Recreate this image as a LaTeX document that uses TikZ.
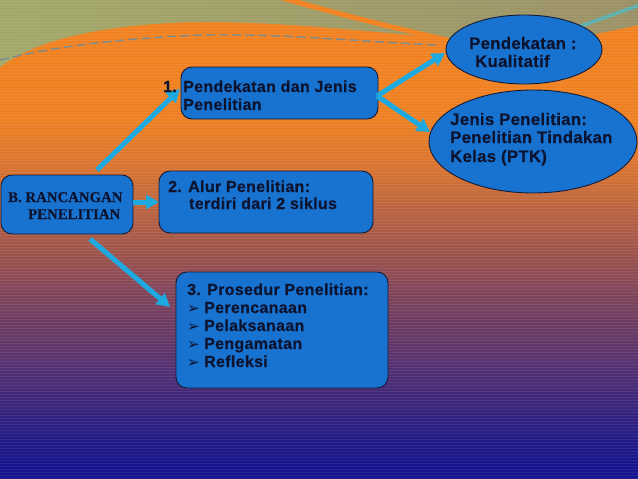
\documentclass[tikz,border=0pt]{standalone}
\usepackage{fontspec}
\usetikzlibrary{arrows.meta,shapes.geometric}
\setmainfont{Liberation Sans}
\newfontfamily\boxfont{Liberation Sans}[LetterSpace=2,FakeBold=0.6]
\newfontfamily\serifbold{Liberation Serif}[FakeBold=0.3]
\newfontfamily\dingfont{DejaVu Sans}
\definecolor{bgA}{RGB}{242,130,32}
\definecolor{bgB}{RGB}{238,128,34}
\definecolor{bgC}{RGB}{215,115,50}
\definecolor{bgD}{RGB}{185,100,65}
\definecolor{bgE}{RGB}{160,85,75}
\definecolor{bgF}{RGB}{130,70,90}
\definecolor{bgG}{RGB}{105,58,100}
\definecolor{bgH}{RGB}{82,48,115}
\definecolor{bgI}{RGB}{55,35,125}
\definecolor{bgJ}{RGB}{30,25,135}
\definecolor{bgK}{RGB}{18,18,145}
\definecolor{olvL}{RGB}{163,168,104}
\definecolor{olvR}{RGB}{155,145,102}
\definecolor{orng}{RGB}{242,130,32}
\definecolor{dashc}{RGB}{120,138,140}
\definecolor{tealc}{RGB}{95,175,175}
\definecolor{boxfill}{RGB}{24,114,208}
\definecolor{boxline}{RGB}{20,28,55}
\definecolor{txtcol}{RGB}{12,20,48}
\definecolor{arrcol}{RGB}{30,170,225}
\begin{document}
\begin{tikzpicture}[x=1pt,y=-1pt,
  rbox/.style={draw=boxline, line width=0.9pt, fill=boxfill, rounded corners=11pt, inner sep=0pt},
  ellbox/.style={draw=boxline, line width=0.9pt, fill=boxfill, ellipse, inner sep=0pt},
  txt/.style={anchor=base west, inner sep=0pt, text=txtcol, font=\boxfont\bfseries\fontsize{16}{19}\selectfont},
  etxt/.style={txt, font=\boxfont\bfseries\fontsize{16.7}{20}\selectfont},
  sertxt/.style={anchor=base west, inner sep=0pt, text=txtcol, font=\serifbold\bfseries\fontsize{14.8}{17}\selectfont},
  bul/.style={anchor=base west, inner sep=0pt, text=txtcol, font=\dingfont\fontsize{15}{17}\selectfont},
  arr/.style={draw=arrcol, line width=5pt, -{Triangle[width=14pt,length=13pt]}},
]
\useasboundingbox (0,0) rectangle (638,479);
% background gradient
\shade[top color=bgA, bottom color=bgB] (0,0) rectangle (638,120.5);
\shade[top color=bgB, bottom color=bgC] (0,120) rectangle (638,170.5);
\shade[top color=bgC, bottom color=bgD] (0,170) rectangle (638,210.5);
\shade[top color=bgD, bottom color=bgE] (0,210) rectangle (638,250.5);
\shade[top color=bgE, bottom color=bgF] (0,250) rectangle (638,290.5);
\shade[top color=bgF, bottom color=bgG] (0,290) rectangle (638,330.5);
\shade[top color=bgG, bottom color=bgH] (0,330) rectangle (638,370.5);
\shade[top color=bgH, bottom color=bgI] (0,370) rectangle (638,410.5);
\shade[top color=bgI, bottom color=bgJ] (0,410) rectangle (638,445.5);
\shade[top color=bgJ, bottom color=bgK] (0,445) rectangle (638,479);
% top olive area
\shade[left color=olvL, right color=olvR] (0,0) -- (0,67) .. controls (30,45) and (80,28) .. (170,23) .. controls (260,19) and (350,30) .. (445,38) .. controls (520,44) and (580,38) .. (600,33) .. controls (615,30) and (630,27) .. (638,25) -- (638,0) -- cycle;
\draw[orng, line width=5pt] (283,-2) .. controls (330,12) and (390,27) .. (447,40);
\draw[dashc, line width=1.4pt, dash pattern=on 9pt off 4pt] (0,60) .. controls (60,45) and (130,38) .. (200,35) .. controls (280,33) and (360,42) .. (440,45);
\draw[tealc, line width=3.5pt] (575,28) -- (640,5);
% stripes
\foreach \yy in {1,4,...,478} \draw[white, opacity=0.08, line width=0.8pt] (0,\yy) -- (638,\yy);
% boxes
\node[rbox, minimum width=132pt, minimum height=59pt] (B) at (67,204.5) {};
\node[rbox, minimum width=197pt, minimum height=52pt] (b1) at (279.5,93) {};
\node[rbox, minimum width=214pt, minimum height=62pt] (b2) at (266,202) {};
\node[rbox, minimum width=212pt, minimum height=116pt] (b3) at (282,330) {};
\node[ellbox, minimum width=156pt, minimum height=69pt] (e1) at (524,49.5) {};
\node[ellbox, minimum width=208pt, minimum height=103pt] (e2) at (533,141.5) {};
% arrow end points
\coordinate (s1) at (97,170);
\coordinate (d1) at (180,89);
\coordinate (s2) at (133,202);
\coordinate (d2) at (159,202);
\coordinate (s3) at (90,239);
\coordinate (d3) at (170,307);
\coordinate (s4) at (377,96);
\coordinate (d4) at (445,53);
\coordinate (d5) at (430,132);
\draw[arr] (s1) -- (d1);
\draw[arr] (s2) -- (d2);
\draw[arr] (s3) -- (d3);
\draw[arr] (s4) -- (d4);
\draw[arr] (s4) -- (d5);
% texts
\node[sertxt] (tB1) at (8,202) {B. RANCANGAN};
\node[sertxt] (tB2) at (28,219) {PENELITIAN};
\node[txt] (t1a) at (163,92) {1. Pendekatan dan Jenis};
\node[txt] (t1b) at (183,110) {Penelitian};
\node[txt] (t2a) at (168,192) {2. Alur Penelitian:};
\node[txt] (t2b) at (189,209) {terdiri dari 2 siklus};
\node[txt] (t3a) at (187,295) {3. Prosedur Penelitian:};
\node[bul] (u1) at (187,313) {➢};
\node[bul] (u2) at (187,331) {➢};
\node[bul] (u3) at (187,349) {➢};
\node[bul] (u4) at (187,367) {➢};
\node[txt] (t3b) at (204,313) {Perencanaan};
\node[txt] (t3c) at (204,331) {Pelaksanaan};
\node[txt] (t3d) at (204,349) {Pengamatan};
\node[txt] (t3e) at (204,367) {Refleksi};
\node[etxt] (te1a) at (469,49) {Pendekatan :};
\node[etxt] (te1b) at (475,67) {Kualitatif};
\node[etxt] (te2a) at (450,125) {Jenis Penelitian:};
\node[etxt] (te2b) at (450,143) {Penelitian Tindakan};
\node[etxt] (te2c) at (450,162) {Kelas (PTK)};
\end{tikzpicture}
\end{document}
